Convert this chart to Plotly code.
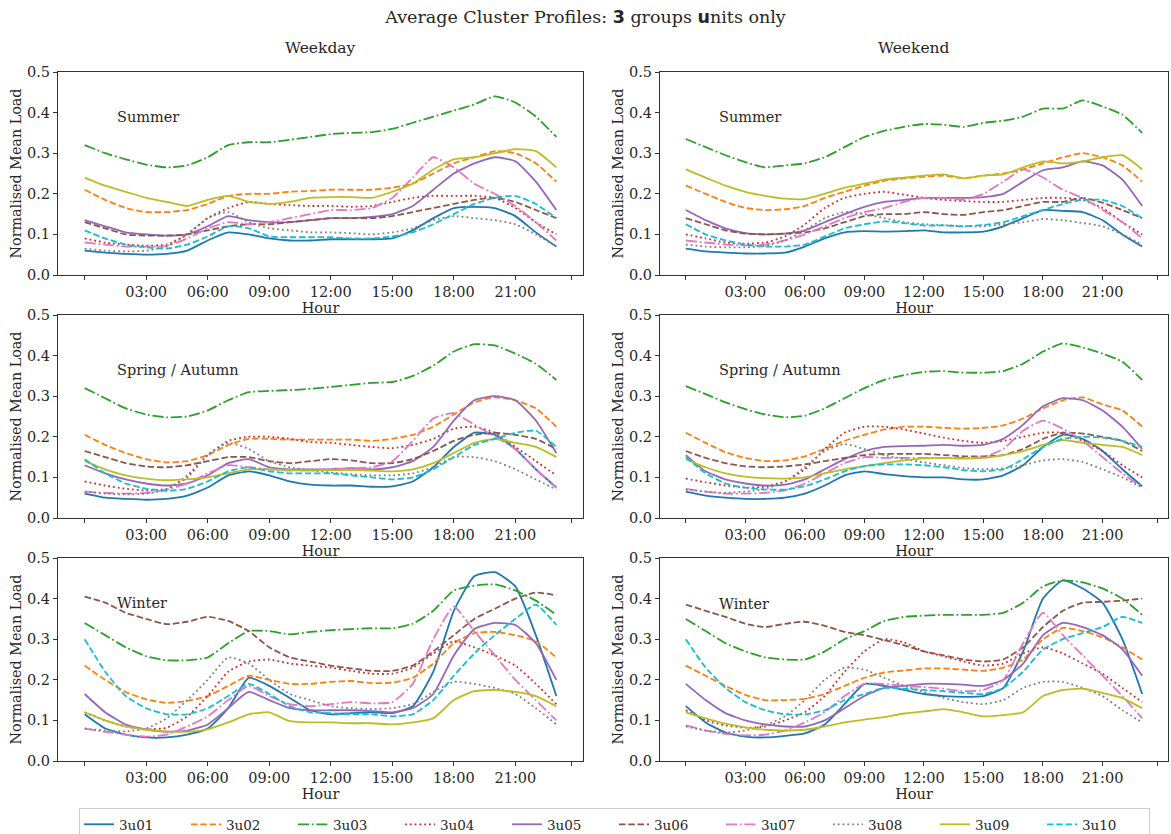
import plotly.graph_objects as go
from plotly.subplots import make_subplots

hours = list(range(24))
units = ["3u01", "3u02", "3u03", "3u04", "3u05", "3u06", "3u07", "3u08", "3u09", "3u10"]
colors = ["#1f77b4", "#ff7f0e", "#2ca02c", "#d62728", "#9467bd",
          "#8c564b", "#e377c2", "#7f7f7f", "#bcbd22", "#17becf"]
dash_solid = "solid"
dash_dashed = "6.5px,2.8px"
dash_dashdot = "11px,2.8px,1.8px,2.8px"
dash_dotted = "1.8px,3px"
dashes = [dash_solid, dash_dashed, dash_dashdot, dash_dotted, dash_solid,
          dash_dashed, dash_dashdot, dash_dotted, dash_solid, dash_dashed]

x_tickvals = [0, 3, 6, 9, 12, 15, 18, 21, 23.75]
x_ticktext = ["", "03:00", "06:00", "09:00", "12:00", "15:00", "18:00", "21:00", ""]
y_tickvals = [0.0, 0.1, 0.2, 0.3, 0.4, 0.5]

# ---------- Weekday / Summer ----------
wd_summer = {
    "3u01": [0.06, 0.055, 0.052, 0.05, 0.052, 0.06, 0.085, 0.105, 0.10, 0.09, 0.085, 0.085, 0.088, 0.088, 0.088, 0.09, 0.11, 0.14, 0.165, 0.168, 0.165, 0.145, 0.105, 0.07],
    "3u02": [0.21, 0.185, 0.165, 0.155, 0.155, 0.16, 0.175, 0.195, 0.20, 0.20, 0.205, 0.207, 0.21, 0.21, 0.21, 0.215, 0.225, 0.25, 0.275, 0.29, 0.305, 0.30, 0.275, 0.23],
    "3u03": [0.32, 0.30, 0.285, 0.272, 0.265, 0.27, 0.29, 0.32, 0.327, 0.327, 0.333, 0.34, 0.347, 0.35, 0.352, 0.36, 0.375, 0.39, 0.405, 0.42, 0.44, 0.425, 0.39, 0.34],
    "3u04": [0.09, 0.08, 0.075, 0.072, 0.075, 0.10, 0.14, 0.165, 0.18, 0.175, 0.172, 0.17, 0.17, 0.168, 0.17, 0.18, 0.19, 0.195, 0.195, 0.195, 0.19, 0.165, 0.13, 0.10],
    "3u05": [0.135, 0.12, 0.105, 0.10, 0.097, 0.10, 0.12, 0.145, 0.135, 0.13, 0.13, 0.135, 0.14, 0.14, 0.143, 0.15, 0.17, 0.21, 0.25, 0.275, 0.29, 0.28, 0.23, 0.16],
    "3u06": [0.13, 0.115, 0.10, 0.097, 0.097, 0.10, 0.11, 0.12, 0.125, 0.125, 0.13, 0.135, 0.14, 0.14, 0.14, 0.145, 0.155, 0.165, 0.175, 0.185, 0.19, 0.18, 0.16, 0.14],
    "3u07": [0.08, 0.075, 0.07, 0.07, 0.072, 0.09, 0.115, 0.13, 0.125, 0.13, 0.14, 0.15, 0.16, 0.16, 0.165, 0.19, 0.24, 0.29, 0.265, 0.225, 0.20, 0.17, 0.13, 0.085],
    "3u08": [0.065, 0.06, 0.058, 0.06, 0.07, 0.10, 0.14, 0.155, 0.13, 0.115, 0.11, 0.105, 0.105, 0.103, 0.10, 0.105, 0.115, 0.135, 0.145, 0.14, 0.135, 0.125, 0.10, 0.07],
    "3u09": [0.24, 0.22, 0.205, 0.19, 0.18, 0.17, 0.185, 0.195, 0.18, 0.175, 0.18, 0.19, 0.192, 0.192, 0.19, 0.205, 0.225, 0.26, 0.285, 0.29, 0.30, 0.31, 0.305, 0.265],
    "3u10": [0.11, 0.09, 0.075, 0.068, 0.065, 0.075, 0.095, 0.12, 0.115, 0.095, 0.093, 0.093, 0.093, 0.09, 0.09, 0.095, 0.105, 0.125, 0.15, 0.175, 0.19, 0.195, 0.175, 0.14],
}

# ---------- Weekday / Spring-Autumn ----------
wd_spring = {
    "3u01": [0.06, 0.05, 0.047, 0.045, 0.047, 0.055, 0.075, 0.105, 0.115, 0.105, 0.09, 0.082, 0.08, 0.08, 0.077, 0.078, 0.09, 0.125, 0.175, 0.21, 0.205, 0.17, 0.12, 0.075],
    "3u02": [0.205, 0.18, 0.16, 0.145, 0.137, 0.14, 0.155, 0.18, 0.195, 0.195, 0.193, 0.193, 0.193, 0.193, 0.19, 0.195, 0.205, 0.225, 0.255, 0.285, 0.297, 0.29, 0.27, 0.225],
    "3u03": [0.32, 0.295, 0.27, 0.255, 0.248, 0.25, 0.265, 0.29, 0.31, 0.313, 0.315, 0.318, 0.323, 0.328, 0.333, 0.335, 0.35, 0.375, 0.41, 0.428, 0.425, 0.405, 0.38, 0.34],
    "3u04": [0.09, 0.08, 0.072, 0.068, 0.072, 0.10, 0.155, 0.19, 0.20, 0.20, 0.195, 0.187, 0.185, 0.18, 0.175, 0.172, 0.18, 0.195, 0.22, 0.225, 0.21, 0.175, 0.14, 0.105],
    "3u05": [0.13, 0.11, 0.095, 0.085, 0.08, 0.085, 0.105, 0.135, 0.145, 0.125, 0.12, 0.12, 0.12, 0.123, 0.12, 0.125, 0.14, 0.175, 0.24, 0.29, 0.30, 0.29, 0.24, 0.16],
    "3u06": [0.165, 0.15, 0.135, 0.127, 0.125, 0.13, 0.14, 0.15, 0.15, 0.14, 0.135, 0.14, 0.145, 0.142, 0.135, 0.135, 0.145, 0.165, 0.19, 0.205, 0.21, 0.205, 0.195, 0.17],
    "3u07": [0.065, 0.062, 0.06, 0.062, 0.07, 0.085, 0.11, 0.13, 0.125, 0.12, 0.117, 0.118, 0.12, 0.122, 0.125, 0.14, 0.19, 0.245, 0.258, 0.23, 0.20, 0.17, 0.12, 0.075],
    "3u08": [0.065, 0.06, 0.058, 0.06, 0.07, 0.105, 0.155, 0.185, 0.17, 0.14, 0.125, 0.118, 0.112, 0.108, 0.105, 0.105, 0.11, 0.125, 0.15, 0.15, 0.14, 0.12, 0.095, 0.07],
    "3u09": [0.14, 0.12, 0.105, 0.097, 0.093, 0.095, 0.10, 0.11, 0.12, 0.12, 0.118, 0.117, 0.118, 0.118, 0.117, 0.115, 0.12, 0.135, 0.16, 0.185, 0.195, 0.185, 0.175, 0.15],
    "3u10": [0.145, 0.11, 0.085, 0.072, 0.067, 0.072, 0.09, 0.115, 0.125, 0.115, 0.11, 0.11, 0.11, 0.105, 0.10, 0.095, 0.10, 0.12, 0.15, 0.18, 0.195, 0.21, 0.215, 0.175],
}

# ---------- Weekday / Winter ----------
wd_winter = {
    "3u01": [0.115, 0.08, 0.065, 0.058, 0.058, 0.065, 0.08, 0.13, 0.205, 0.185, 0.155, 0.125, 0.115, 0.118, 0.12, 0.118, 0.135, 0.22, 0.37, 0.455, 0.465, 0.43, 0.31, 0.16],
    "3u02": [0.235, 0.20, 0.17, 0.152, 0.143, 0.148, 0.16, 0.185, 0.21, 0.20, 0.19, 0.19, 0.195, 0.197, 0.192, 0.193, 0.205, 0.24, 0.29, 0.315, 0.318, 0.31, 0.295, 0.255],
    "3u03": [0.34, 0.31, 0.28, 0.258, 0.248, 0.248, 0.255, 0.29, 0.32, 0.32, 0.312, 0.318, 0.322, 0.325, 0.327, 0.327, 0.338, 0.37, 0.42, 0.432, 0.435, 0.42, 0.395, 0.36],
    "3u04": [0.12, 0.10, 0.085, 0.078, 0.082, 0.11, 0.16, 0.22, 0.245, 0.25, 0.24, 0.235, 0.23, 0.222, 0.215, 0.215, 0.23, 0.265, 0.295, 0.28, 0.26, 0.235, 0.19, 0.14],
    "3u05": [0.165, 0.12, 0.09, 0.078, 0.072, 0.075, 0.09, 0.13, 0.17, 0.15, 0.13, 0.125, 0.125, 0.125, 0.123, 0.12, 0.13, 0.165, 0.26, 0.325, 0.34, 0.335, 0.29, 0.20],
    "3u06": [0.405, 0.39, 0.365, 0.35, 0.337, 0.343, 0.355, 0.345, 0.32, 0.28, 0.255, 0.245, 0.235, 0.228, 0.222, 0.222, 0.235, 0.27, 0.31, 0.35, 0.375, 0.40, 0.415, 0.408],
    "3u07": [0.08, 0.072, 0.065, 0.06, 0.065, 0.085, 0.11, 0.15, 0.185, 0.16, 0.14, 0.135, 0.14, 0.145, 0.142, 0.145, 0.19, 0.30, 0.38, 0.32, 0.26, 0.20, 0.15, 0.10],
    "3u08": [0.08, 0.075, 0.073, 0.08, 0.105, 0.15, 0.20, 0.255, 0.24, 0.20, 0.165, 0.15, 0.135, 0.13, 0.128, 0.13, 0.14, 0.17, 0.195, 0.19, 0.18, 0.165, 0.13, 0.09],
    "3u09": [0.12, 0.10, 0.085, 0.077, 0.073, 0.072, 0.078, 0.095, 0.115, 0.12, 0.098, 0.095, 0.095, 0.093, 0.093, 0.09, 0.095, 0.105, 0.15, 0.172, 0.175, 0.17, 0.16, 0.135],
    "3u10": [0.30, 0.22, 0.16, 0.13, 0.115, 0.115, 0.13, 0.16, 0.19, 0.165, 0.135, 0.12, 0.118, 0.115, 0.115, 0.11, 0.115, 0.15, 0.21, 0.265, 0.31, 0.35, 0.385, 0.335],
}

# ---------- Weekend / Summer ----------
we_summer = {
    "3u01": [0.065, 0.058, 0.055, 0.053, 0.053, 0.055, 0.07, 0.09, 0.105, 0.108, 0.107, 0.108, 0.11, 0.105, 0.105, 0.107, 0.12, 0.14, 0.16, 0.158, 0.155, 0.135, 0.10, 0.07],
    "3u02": [0.22, 0.20, 0.18, 0.165, 0.16, 0.162, 0.17, 0.19, 0.205, 0.22, 0.232, 0.238, 0.242, 0.245, 0.238, 0.245, 0.25, 0.26, 0.275, 0.29, 0.30, 0.29, 0.27, 0.23],
    "3u03": [0.335, 0.315, 0.295, 0.278, 0.265, 0.27, 0.275, 0.29, 0.315, 0.34, 0.355, 0.365, 0.372, 0.37, 0.365, 0.375, 0.38, 0.39, 0.41, 0.41, 0.43, 0.415, 0.395, 0.35],
    "3u04": [0.10, 0.09, 0.08, 0.077, 0.08, 0.095, 0.125, 0.165, 0.19, 0.20, 0.205, 0.198, 0.19, 0.185, 0.182, 0.18, 0.18, 0.185, 0.19, 0.19, 0.185, 0.165, 0.13, 0.10],
    "3u05": [0.16, 0.135, 0.115, 0.103, 0.10, 0.102, 0.11, 0.13, 0.15, 0.168, 0.18, 0.185, 0.19, 0.19, 0.19, 0.192, 0.20, 0.23, 0.258, 0.265, 0.28, 0.27, 0.235, 0.17],
    "3u06": [0.14, 0.125, 0.11, 0.102, 0.10, 0.102, 0.105, 0.115, 0.13, 0.145, 0.15, 0.15, 0.155, 0.15, 0.148, 0.155, 0.16, 0.17, 0.18, 0.18, 0.19, 0.178, 0.16, 0.14],
    "3u07": [0.085, 0.08, 0.075, 0.073, 0.075, 0.085, 0.10, 0.12, 0.14, 0.155, 0.165, 0.18, 0.19, 0.19, 0.185, 0.20, 0.23, 0.26, 0.24, 0.21, 0.19, 0.16, 0.13, 0.09],
    "3u08": [0.075, 0.07, 0.068, 0.068, 0.072, 0.085, 0.11, 0.14, 0.155, 0.15, 0.14, 0.13, 0.125, 0.123, 0.12, 0.12, 0.125, 0.13, 0.138, 0.135, 0.128, 0.12, 0.10, 0.075],
    "3u09": [0.26, 0.24, 0.22, 0.205, 0.195, 0.188, 0.187, 0.20, 0.215, 0.225, 0.235, 0.24, 0.245, 0.248, 0.238, 0.245, 0.248, 0.265, 0.28, 0.275, 0.28, 0.29, 0.295, 0.26],
    "3u10": [0.125, 0.10, 0.085, 0.075, 0.07, 0.07, 0.075, 0.095, 0.115, 0.125, 0.132, 0.128, 0.122, 0.122, 0.12, 0.123, 0.13, 0.145, 0.16, 0.175, 0.185, 0.185, 0.17, 0.14],
}

# ---------- Weekend / Spring-Autumn ----------
we_spring = {
    "3u01": [0.065, 0.055, 0.05, 0.047, 0.047, 0.05, 0.06, 0.08, 0.105, 0.115, 0.108, 0.103, 0.10, 0.10, 0.095, 0.095, 0.105, 0.13, 0.175, 0.205, 0.195, 0.165, 0.12, 0.078],
    "3u02": [0.21, 0.185, 0.162, 0.148, 0.14, 0.142, 0.152, 0.17, 0.19, 0.205, 0.218, 0.225, 0.225, 0.222, 0.22, 0.222, 0.228, 0.245, 0.27, 0.29, 0.297, 0.28, 0.265, 0.225],
    "3u03": [0.325, 0.305, 0.285, 0.268, 0.255, 0.248, 0.252, 0.27, 0.295, 0.32, 0.34, 0.352, 0.36, 0.362, 0.358, 0.358, 0.362, 0.38, 0.41, 0.43, 0.42, 0.405, 0.385, 0.34],
    "3u04": [0.097, 0.088, 0.08, 0.075, 0.077, 0.09, 0.12, 0.17, 0.21, 0.225, 0.225, 0.218, 0.208, 0.198, 0.19, 0.185, 0.19, 0.20, 0.21, 0.21, 0.19, 0.165, 0.13, 0.10],
    "3u05": [0.155, 0.115, 0.095, 0.085, 0.08, 0.082, 0.095, 0.12, 0.145, 0.165, 0.175, 0.177, 0.178, 0.18, 0.178, 0.18, 0.195, 0.23, 0.275, 0.295, 0.29, 0.265, 0.225, 0.17],
    "3u06": [0.165, 0.148, 0.135, 0.127, 0.125, 0.127, 0.132, 0.14, 0.148, 0.155, 0.158, 0.158, 0.158, 0.155, 0.152, 0.152, 0.155, 0.17, 0.195, 0.21, 0.208, 0.20, 0.19, 0.165],
    "3u07": [0.072, 0.065, 0.06, 0.06, 0.062, 0.068, 0.085, 0.11, 0.135, 0.15, 0.148, 0.148, 0.148, 0.148, 0.148, 0.15, 0.17, 0.215, 0.24, 0.22, 0.19, 0.15, 0.11, 0.075],
    "3u08": [0.07, 0.065, 0.062, 0.065, 0.072, 0.09, 0.125, 0.165, 0.182, 0.17, 0.155, 0.145, 0.137, 0.13, 0.123, 0.12, 0.122, 0.13, 0.142, 0.145, 0.138, 0.12, 0.10, 0.075],
    "3u09": [0.145, 0.125, 0.11, 0.102, 0.098, 0.097, 0.10, 0.11, 0.12, 0.128, 0.135, 0.142, 0.147, 0.148, 0.146, 0.148, 0.155, 0.165, 0.18, 0.192, 0.185, 0.18, 0.175, 0.155],
    "3u10": [0.15, 0.11, 0.085, 0.075, 0.07, 0.07, 0.078, 0.095, 0.115, 0.128, 0.132, 0.132, 0.13, 0.125, 0.118, 0.115, 0.12, 0.145, 0.175, 0.195, 0.20, 0.198, 0.19, 0.175],
}

# ---------- Weekend / Winter ----------
we_winter = {
    "3u01": [0.135, 0.095, 0.07, 0.06, 0.058, 0.062, 0.068, 0.09, 0.14, 0.19, 0.185, 0.175, 0.165, 0.16, 0.158, 0.16, 0.18, 0.27, 0.40, 0.445, 0.425, 0.39, 0.30, 0.165],
    "3u02": [0.235, 0.21, 0.185, 0.163, 0.15, 0.15, 0.153, 0.165, 0.185, 0.205, 0.218, 0.223, 0.228, 0.228, 0.225, 0.222, 0.23, 0.25, 0.30, 0.328, 0.32, 0.305, 0.28, 0.25],
    "3u03": [0.35, 0.32, 0.29, 0.27, 0.255, 0.25, 0.25, 0.27, 0.30, 0.32, 0.345, 0.355, 0.358, 0.36, 0.36, 0.36, 0.365, 0.39, 0.43, 0.445, 0.44, 0.425, 0.40, 0.36],
    "3u04": [0.125, 0.10, 0.088, 0.082, 0.085, 0.10, 0.12, 0.16, 0.22, 0.27, 0.30, 0.292, 0.27, 0.258, 0.245, 0.235, 0.24, 0.265, 0.28, 0.265, 0.24, 0.215, 0.18, 0.145],
    "3u05": [0.19, 0.15, 0.118, 0.10, 0.09, 0.085, 0.085, 0.10, 0.13, 0.16, 0.18, 0.185, 0.19, 0.19, 0.188, 0.185, 0.20, 0.24, 0.31, 0.34, 0.33, 0.31, 0.275, 0.21],
    "3u06": [0.385, 0.37, 0.355, 0.338, 0.33, 0.338, 0.343, 0.333, 0.318, 0.31, 0.298, 0.285, 0.27, 0.26, 0.25, 0.245, 0.25, 0.28, 0.33, 0.37, 0.39, 0.392, 0.395, 0.40],
    "3u07": [0.088, 0.075, 0.067, 0.063, 0.065, 0.075, 0.095, 0.12, 0.16, 0.19, 0.19, 0.185, 0.182, 0.178, 0.172, 0.175, 0.20, 0.29, 0.365, 0.31, 0.26, 0.21, 0.16, 0.105],
    "3u08": [0.085, 0.075, 0.07, 0.075, 0.088, 0.11, 0.15, 0.20, 0.23, 0.225, 0.205, 0.185, 0.17, 0.155, 0.145, 0.14, 0.15, 0.18, 0.195, 0.195, 0.18, 0.16, 0.125, 0.095],
    "3u09": [0.12, 0.105, 0.092, 0.083, 0.077, 0.075, 0.077, 0.085, 0.095, 0.102, 0.108, 0.117, 0.122, 0.128, 0.12, 0.11, 0.113, 0.12, 0.16, 0.175, 0.178, 0.168, 0.155, 0.13],
    "3u10": [0.30, 0.23, 0.18, 0.145, 0.125, 0.115, 0.115, 0.125, 0.15, 0.165, 0.18, 0.178, 0.175, 0.172, 0.168, 0.165, 0.18, 0.22, 0.275, 0.30, 0.315, 0.33, 0.355, 0.34],
}

panels = [
    (wd_summer, 1, 1, "Summer", 0.388),
    (we_summer, 1, 2, "Summer", 0.388),
    (wd_spring, 2, 1, "Spring / Autumn", 0.365),
    (we_spring, 2, 2, "Spring / Autumn", 0.365),
    (wd_winter, 3, 1, "Winter", 0.388),
    (we_winter, 3, 2, "Winter", 0.386),
]

FONT = "DejaVu Serif"
TXT = "#262626"
TICK_SIZE = 14.5

fig = make_subplots(rows=3, cols=2)

for data, r, c, label, ly in panels:
    for i, u in enumerate(units):
        fig.add_trace(
            go.Scatter(
                x=hours, y=data[u], mode="lines", name=u,
                legendgroup=u, showlegend=(r == 1 and c == 1),
                line=dict(color=colors[i], width=1.8, dash=dashes[i],
                          shape="spline", smoothing=0.5),
                hoverinfo="x+y+name",
            ),
            row=r, col=c,
        )

# domains (paper coordinates)
W_PAPER, H_PAPER = 1110.0, 689.0
x_domains = {1: [0.0, 525 / W_PAPER], 2: [602 / W_PAPER, 1.0]}
y_domains = {1: [1 - 203 / H_PAPER, 1.0],
             2: [1 - 446 / H_PAPER, 1 - 243 / H_PAPER],
             3: [0.0, 203 / H_PAPER]}

idx = 0
for r in (1, 2, 3):
    for c in (1, 2):
        idx += 1
        xa = "xaxis" if idx == 1 else f"xaxis{idx}"
        ya = "yaxis" if idx == 1 else f"yaxis{idx}"
        fig.layout[xa].update(
            domain=x_domains[c], range=[-1.3, 24.3],
            tickvals=x_tickvals, ticktext=x_ticktext,
            ticks="outside", ticklen=4, tickcolor="#333", tickwidth=1,
            showline=True, linecolor="#333", linewidth=1, mirror=True,
            showgrid=False, zeroline=False,
            tickfont=dict(family=FONT, size=TICK_SIZE, color=TXT),
            title=dict(text="Hour", font=dict(family=FONT, size=TICK_SIZE, color=TXT), standoff=0),
        )
        fig.layout[ya].update(
            domain=y_domains[r], range=[0, 0.5],
            tickvals=y_tickvals, tickformat=".1f",
            ticks="outside", ticklen=4, tickcolor="#333", tickwidth=1,
            showline=True, linecolor="#333", linewidth=1, mirror=True,
            showgrid=False, zeroline=False,
            tickfont=dict(family=FONT, size=TICK_SIZE, color=TXT),
            title=dict(text="Normalised Mean Load", font=dict(family=FONT, size=14.3, color=TXT), standoff=2),
        )

# season labels
idx = 0
for data, r, c, label, ly in panels:
    idx += 1
    xr = "x domain" if idx == 1 else f"x{idx} domain"
    yr = "y" if idx == 1 else f"y{idx}"
    fig.add_annotation(x=0.108 if c == 1 else 0.112, y=ly, xref=xr, yref=yr, text=label,
                       showarrow=False, xanchor="left", yanchor="middle",
                       font=dict(family=FONT, size=TICK_SIZE, color=TXT))

# column titles
for xc, txt in ((262.5 / W_PAPER, "Weekday"), ((602 + 254) / W_PAPER, "Weekend")):
    fig.add_annotation(x=xc, y=1 + 24 / H_PAPER, xref="paper", yref="paper", text=txt,
                       showarrow=False, xanchor="center", yanchor="middle",
                       font=dict(family=FONT, size=15.5, color=TXT))

fig.update_layout(
    width=1171, height=834,
    margin=dict(l=58, r=3, t=72, b=73, autoexpand=False),
    paper_bgcolor="white", plot_bgcolor="white",
    font=dict(family=FONT, size=13, color=TXT),
    title=dict(
        text="Average Cluster Profiles: <b><span style='font-family:DejaVu Sans'>3</span></b> groups "
             "<b><span style='font-family:DejaVu Sans'>u</span></b>nits only",
        x=0.5, xref="container", xanchor="center",
        y=1 - 17 / 834, yref="container", yanchor="middle",
        font=dict(family=FONT, size=17.5, color=TXT),
    ),
    legend=dict(
        orientation="h", x=21 / W_PAPER, xanchor="left",
        y=-47 / H_PAPER, yanchor="top",
        bordercolor="#cccccc", borderwidth=1, bgcolor="white",
        font=dict(family=FONT, size=13.5, color=TXT),
        entrywidth=62, entrywidthmode="pixels",
        tracegroupgap=0, itemwidth=30,
    ),
    showlegend=True,
)

fig.write_html("out.html", config={"displayModeBar": False},
               post_script="document.body.style.margin='0px';")
